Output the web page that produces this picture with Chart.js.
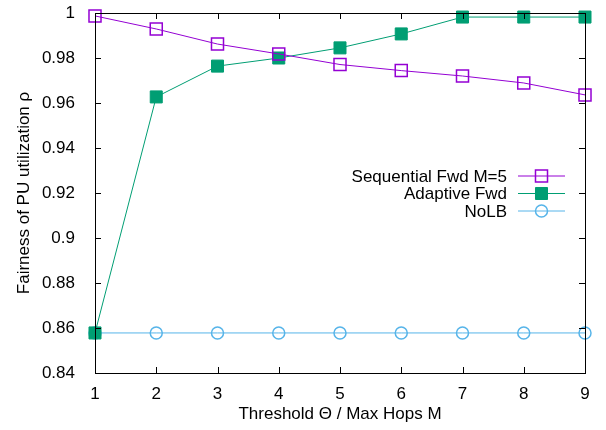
<!DOCTYPE html>
<html lang="en">
<head>
  <meta charset="UTF-8" />
  <title>Fairness of PU utilization</title>
  <script src="https://cdn.jsdelivr.net/npm/chart.js"></script>
  <style>
    body { margin: 0; background: white; }
    .wrap { width: 606px; height: 430px; }
  </style>
</head>
<body>
  <div class="wrap"><canvas id="chart" width="606" height="430"></canvas></div>
  <script>
    const xValues = [1, 2, 3, 4, 5, 6, 7, 8, 9];
    const sequentialFwd = [0.9987, 0.9929, 0.9862, 0.9818, 0.9771, 0.9744, 0.9720, 0.9689, 0.9636];
    const adaptiveFwd = [0.8578, 0.9627, 0.9764, 0.9800, 0.9845, 0.9907, 0.9982, 0.9982, 0.9982];
    const noLB = [0.8578, 0.8578, 0.8578, 0.8578, 0.8578, 0.8578, 0.8578, 0.8578, 0.8578];
    const yTicks = [0.84, 0.86, 0.88, 0.9, 0.92, 0.94, 0.96, 0.98, 1];

    const font = 'Liberation Sans, Arial, sans-serif';
    const fontSize = 17;
    const toPoints = arr => arr.map((y, i) => ({ x: xValues[i], y }));

    // gnuplot style: frame + inward ticks on all four sides
    const framePlugin = {
      id: 'frame',
      afterDraw(chart) {
        const { ctx, chartArea: a, scales } = chart;
        ctx.save();
        ctx.strokeStyle = '#000';
        ctx.lineWidth = 1;
        ctx.beginPath();
        scales.y.ticks.forEach(t => {
          const py = Math.round(scales.y.getPixelForValue(t.value)) + 0.5;
          ctx.moveTo(a.left, py); ctx.lineTo(a.left + 6, py);
          ctx.moveTo(a.right, py); ctx.lineTo(a.right - 6, py);
        });
        scales.x.ticks.forEach(t => {
          const px = Math.round(scales.x.getPixelForValue(t.value)) + 0.5;
          ctx.moveTo(px, a.bottom); ctx.lineTo(px, a.bottom - 6);
          ctx.moveTo(px, a.top); ctx.lineTo(px, a.top + 6);
        });
        ctx.stroke();
        ctx.strokeRect(Math.round(a.left) + 0.5, Math.round(a.top) + 0.5,
          Math.round(a.right - a.left), Math.round(a.bottom - a.top));
        ctx.restore();
      }
    };

    // legend with text on the left, sample on the right
    const legendPlugin = {
      id: 'gpLegend',
      afterDraw(chart) {
        const { ctx } = chart;
        const textRight = 507, lineL = 518, lineR = 565, top = 176, step = 17.5;
        ctx.save();
        ctx.font = fontSize + 'px ' + font;
        ctx.textAlign = 'right';
        ctx.textBaseline = 'middle';
        chart.data.datasets.forEach((ds, i) => {
          const y = top + i * step;
          ctx.fillStyle = '#000';
          ctx.fillText(ds.label, textRight, y + 1);
          ctx.strokeStyle = ds.borderColor;
          ctx.lineWidth = 1;
          ctx.beginPath();
          ctx.moveTo(lineL, y); ctx.lineTo(lineR, y);
          ctx.stroke();
          const cx = (lineL + lineR) / 2;
          ctx.beginPath();
          if (ds.pointStyle === 'rect') {
            const s = ds.pointRadius * Math.SQRT1_2;
            ctx.rect(cx - s, y - s, 2 * s, 2 * s);
          } else {
            ctx.arc(cx, y, ds.pointRadius, 0, Math.PI * 2);
          }
          if (ds.pointBackgroundColor !== 'transparent') {
            ctx.fillStyle = ds.pointBackgroundColor;
            ctx.fill();
          }
          ctx.lineWidth = ds.pointBorderWidth;
          ctx.strokeStyle = ds.pointBorderColor;
          ctx.stroke();
        });
        ctx.restore();
      }
    };

    new Chart(document.getElementById('chart'), {
      type: 'line',
      data: {
        datasets: [
          {
            label: 'Sequential Fwd M=5',
            data: toPoints(sequentialFwd),
            borderColor: '#9400d3', borderWidth: 1,
            pointStyle: 'rect', pointRadius: 8.5,
            pointBackgroundColor: 'transparent', pointBorderColor: '#9400d3', pointBorderWidth: 1.5
          },
          {
            label: 'Adaptive Fwd',
            data: toPoints(adaptiveFwd),
            borderColor: '#009e73', borderWidth: 1,
            pointStyle: 'rect', pointRadius: 8.5,
            pointBackgroundColor: '#009e73', pointBorderColor: '#009e73', pointBorderWidth: 1
          },
          {
            label: 'NoLB',
            data: toPoints(noLB),
            borderColor: '#56b4e9', borderWidth: 1,
            pointStyle: 'circle', pointRadius: 6,
            pointBackgroundColor: 'transparent', pointBorderColor: '#56b4e9', pointBorderWidth: 1.5
          }
        ]
      },
      options: {
        responsive: false,
        animation: false,
        clip: false,
        layout: { padding: { top: 13, right: 21, left: 14, bottom: 5 } },
        plugins: { legend: { display: false }, tooltip: { enabled: false } },
        scales: {
          x: {
            type: 'linear', min: 1, max: 9,
            grid: { display: false },
            border: { display: false },
            afterFit: s => { s.height = 52; },
            ticks: { stepSize: 1, color: '#000', font: { family: font, size: fontSize }, padding: 3 },
            title: { display: true, text: 'Threshold Θ / Max Hops M', color: '#000',
              font: { family: font, size: fontSize }, padding: { top: 2, bottom: 0 } }
          },
          y: {
            min: 0.84, max: 1,
            grid: { display: false },
            border: { display: false },
            afterFit: s => { s.width = 81; s.paddingTop = 0; s.paddingBottom = 0; },
            afterBuildTicks: s => { s.ticks = yTicks.map(v => ({ value: v })); },
            ticks: {
              color: '#000', font: { family: font, size: fontSize }, padding: 12,
              callback: v => String(+v.toFixed(2))
            },
            title: { display: true, text: 'Fairness of PU utilization ρ', color: '#000',
              font: { family: font, size: fontSize }, padding: { top: 0, bottom: 0 } }
          }
        }
      },
      plugins: [framePlugin, legendPlugin]
    });
  </script>
</body>
</html>
